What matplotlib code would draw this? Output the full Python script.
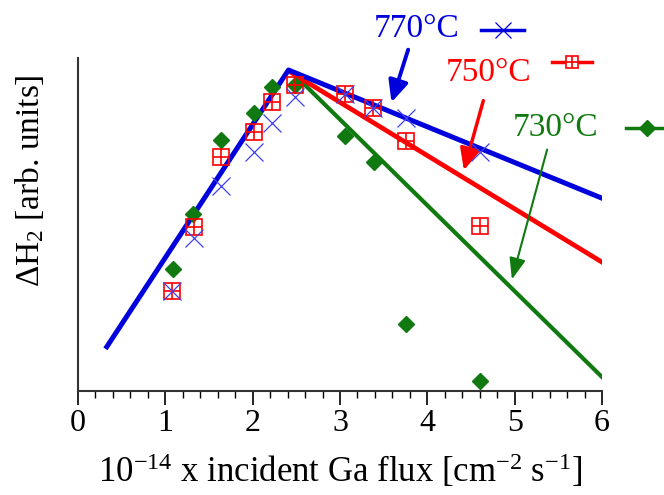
import matplotlib
matplotlib.use('Agg')
import matplotlib.pyplot as plt
from matplotlib.ticker import MultipleLocator

plt.rcParams['font.family'] = ['Liberation Serif', 'DejaVu Serif']
plt.rcParams['mathtext.fontset'] = 'custom'
plt.rcParams['mathtext.rm'] = 'Liberation Serif'
plt.rcParams['mathtext.it'] = 'Liberation Serif:italic'

# measured points (x = flux, y = arb. units)
flux = [1.08, 1.33, 1.64, 2.02, 2.22, 2.48, 3.06, 3.38, 3.76, 4.60]
h770 = [30.1, 45.8, 61.6, 71.9, 80.4, 88.4, 89.1, 84.9, 81.9, 71.9]
h750 = [30.1, 49.3, 70.2, 77.9, 86.9, 91.9, 89.1, 84.9, 75.2, 49.6]
flux730 = [1.09, 1.32, 1.64, 2.02, 2.22, 2.48, 3.06, 3.39, 3.76, 4.60]
h730 = [36.6, 53.1, 75.4, 83.4, 91.4, 91.9, 76.6, 68.9, 20.0, 3.0]

# model lines
fit_x770 = [0.33, 2.41, 6.0]
fit_y770 = [13.3, 96.4, 57.9]
fit_x750 = [2.45, 6.0]
fit_y750 = [95.5, 38.7]
fit_x730 = [2.54, 6.0]
fit_y730 = [93.4, 4.2]

blue, red, green = '#0000dd', '#ff0000', '#107a10'

fig = plt.figure(figsize=(6.64, 4.95), dpi=100)
ax = fig.add_axes([0.1175, 0.2101, 0.7891, 0.6727])

ax.plot(fit_x730, fit_y730, color=green, lw=3.0, zorder=2)
ax.plot(fit_x750, fit_y750, color=red, lw=3.4, zorder=2)
ax.plot(fit_x770, fit_y770, color=blue, lw=3.6, zorder=3)

ax.plot(flux730, h730, 'D', color=green, ms=8, ls='none', zorder=4)
ax.plot(flux, h750, 's', mfc='none', mec=red, ms=11, mew=1.2, ls='none', zorder=5)
ax.plot(flux, h750, '+', color=red, ms=11, mew=1.2, ls='none', zorder=5)
ax.plot(flux, h770, 'x', color='#4040ee', ms=13, mew=0.9, ls='none', zorder=6)

# labels with arrows
ax.text(3.88, 108.7, '770°C', color=blue, fontsize=24, ha='center', va='center')
ax.text(4.70, 95.5, '750°C', color=red, fontsize=24, ha='center', va='center')
ax.text(5.47, 79.0, '730°C', color=green, fontsize=24, ha='center', va='center')

ax.annotate('', xy=(3.58, 85.9), xytext=(3.79, 103.3),
            arrowprops=dict(arrowstyle='-|>,head_length=1.3,head_width=0.6', color=blue, lw=2.8))
ax.annotate('', xy=(4.41, 65.5), xytext=(4.65, 88.0),
            arrowprops=dict(arrowstyle='-|>,head_length=1.3,head_width=0.6', color=red, lw=2.5))
ax.annotate('', xy=(4.96, 32.7), xytext=(5.38, 73.3),
            arrowprops=dict(arrowstyle='-|>,head_length=1.3,head_width=0.5', color=green, lw=1.5))

# legend samples
ax.plot([4.62, 5.11], [108.4, 108.4], color=blue, lw=2.5, clip_on=False)
ax.plot([4.865], [108.4], 'x', color=blue, ms=11, mew=0.9, clip_on=False)
ax.plot([5.43, 5.89], [98.9, 98.9], color=red, lw=2.5, clip_on=False)
ax.plot([5.66], [98.9], 's', mfc='white', mec=red, ms=9, mew=1.2, clip_on=False)
ax.plot([5.66], [98.9], '+', color=red, ms=9, mew=1.2, clip_on=False)
ax.plot([6.27, 6.75], [79.0, 79.0], color=green, lw=2.5, clip_on=False)
ax.plot([6.51], [79.0], 'D', color=green, ms=8, clip_on=False)

ax.set_xlim(0, 6)
ax.set_ylim(0, 100)
ax.xaxis.set_major_locator(MultipleLocator(1))
ax.xaxis.set_minor_locator(MultipleLocator(0.2))
ax.tick_params(axis='x', which='major', direction='out', length=10, width=1.2,
               labelsize=23, pad=3, colors='black')
ax.tick_params(axis='x', which='minor', direction='out', length=5, width=1.0)
ax.set_yticks([])
for s in ['top', 'right']:
    ax.spines[s].set_visible(False)
for s in ['left', 'bottom']:
    ax.spines[s].set_linewidth(1.5)
    ax.spines[s].set_color('#333333')

ax.set_xlabel(r'10$^{\mathrm{-14}}$ x incident Ga flux [cm$^{\mathrm{-2}}$ s$^{\mathrm{-1}}$]',
              fontsize=25, labelpad=10)
fig.text(30 / 664, 1 - 181 / 495, r'$\Delta$H$_{\mathrm{2}}$ [arb. units]',
         fontsize=24, rotation=90, ha='center', va='center')

fig.savefig('out.png', dpi=100)
